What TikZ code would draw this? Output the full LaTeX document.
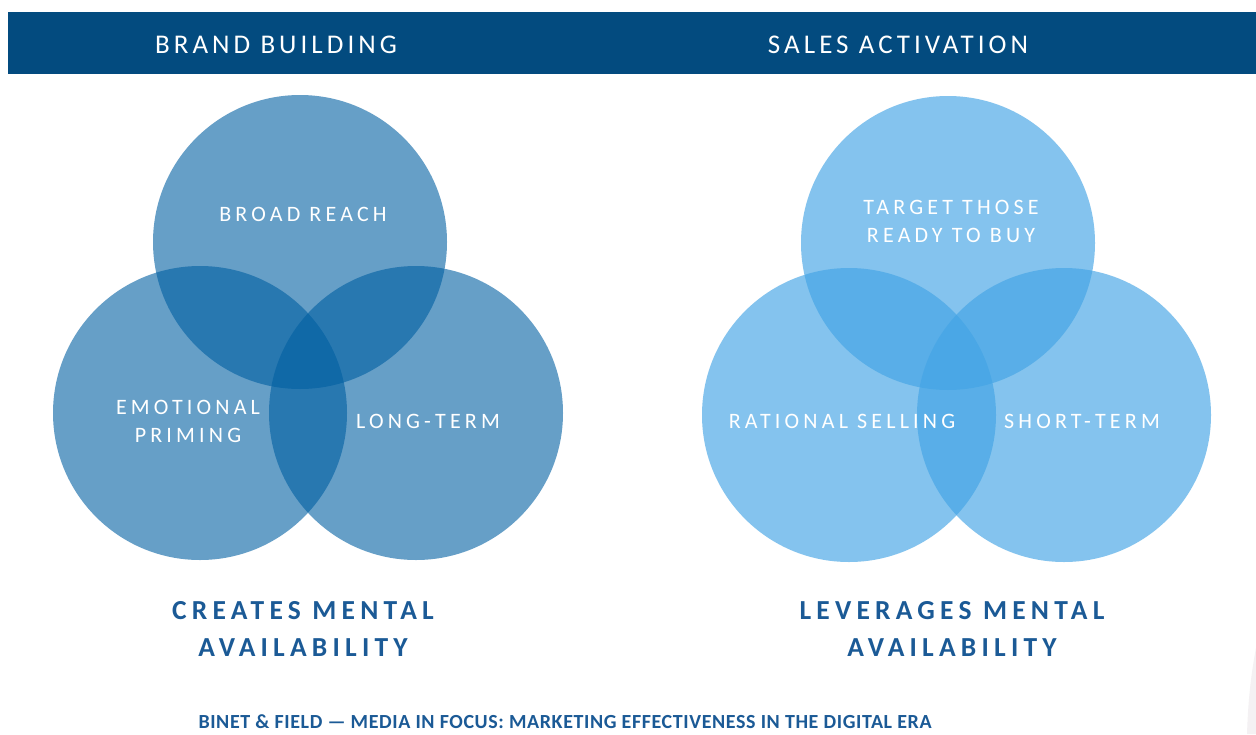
\documentclass[tikz,border=0pt]{standalone}
\usepackage{fontspec}
\setmainfont{Carlito}
\newfontfamily\hdrfont[LetterSpace=15]{Carlito}
\newfontfamily\lblfont[LetterSpace=19]{Carlito}
\newfontfamily\capfont[LetterSpace=19]{Carlito Bold}
\newfontfamily\footfont[LetterSpace=3]{Carlito Bold}
\definecolor{barblue}{HTML}{034B7F}
\definecolor{bbblue}{HTML}{005FA2}
\definecolor{sablue}{HTML}{43A4E5}
\definecolor{capblue}{HTML}{1B5A96}
\definecolor{ghost}{HTML}{F4F1F3}
\tikzset{
  bbcirc/.style={circle, fill=bbblue, fill opacity=0.6, draw=none, minimum size=294pt, inner sep=0pt},
  sacirc/.style={circle, fill=sablue, fill opacity=0.65, draw=none, minimum size=294pt, inner sep=0pt},
  hdr/.style={text=white, font=\hdrfont\fontsize{27}{30}\selectfont, inner sep=0pt},
  lbl/.style={text=white, font=\lblfont\fontsize{22}{28}\selectfont, align=center, inner sep=0pt},
  captext/.style={text=capblue, font=\capfont\fontsize{27.5}{37}\selectfont, align=center, inner sep=0pt},
  foot/.style={text=capblue, font=\footfont\fontsize{20}{22}\selectfont, inner sep=0pt}
}
\begin{document}
\begin{tikzpicture}[x=1pt,y=-1pt]
\useasboundingbox (0,0) rectangle (1256,734);
\fill[white] (0,0) rectangle (1256,734);
% faint shape at lower right
\fill[ghost] (1256,648) .. controls (1250,680) and (1248,705) .. (1247,734) -- (1256,734) -- cycle;
% header bar
\node[fill=barblue, minimum width=1248pt, minimum height=62pt, inner sep=0pt, anchor=north west] (bar) at (8,12) {};
\node[hdr] (hbb) at (276,45) {BRAND BUILDING};
\node[hdr] (hsa) at (898,45) {SALES ACTIVATION};
% brand building circles
\node[bbcirc] (bt) at (300,242) {};
\node[bbcirc] (bl) at (200,413) {};
\node[bbcirc] (br) at (416,413) {};
\node[lbl] (lt) at (303,214) {BROAD REACH};
\node[lbl] (ll) at (188,421) {EMOTIONAL\\PRIMING};
\node[lbl] (lr) at (428,421) {LONG-TERM};
% sales activation circles
\node[sacirc] (st) at (948,243) {};
\node[sacirc] (sl) at (849,415) {};
\node[sacirc] (sr) at (1064,415) {};
\node[lbl] (rt) at (951,221) {TARGET THOSE\\READY TO BUY};
\node[lbl] (rl) at (842,421) {RATIONAL SELLING};
\node[lbl] (rr) at (1082,421) {SHORT-TERM};
% captions
\node[captext] (cb) at (303,629) {CREATES MENTAL\\AVAILABILITY};
\node[captext] (cs) at (952,629) {LEVERAGES MENTAL\\AVAILABILITY};
% footer
\node[foot] (ft) at (565,722) {BINET \& FIELD — MEDIA IN FOCUS: MARKETING EFFECTIVENESS IN THE DIGITAL ERA};
\end{tikzpicture}
\end{document}
